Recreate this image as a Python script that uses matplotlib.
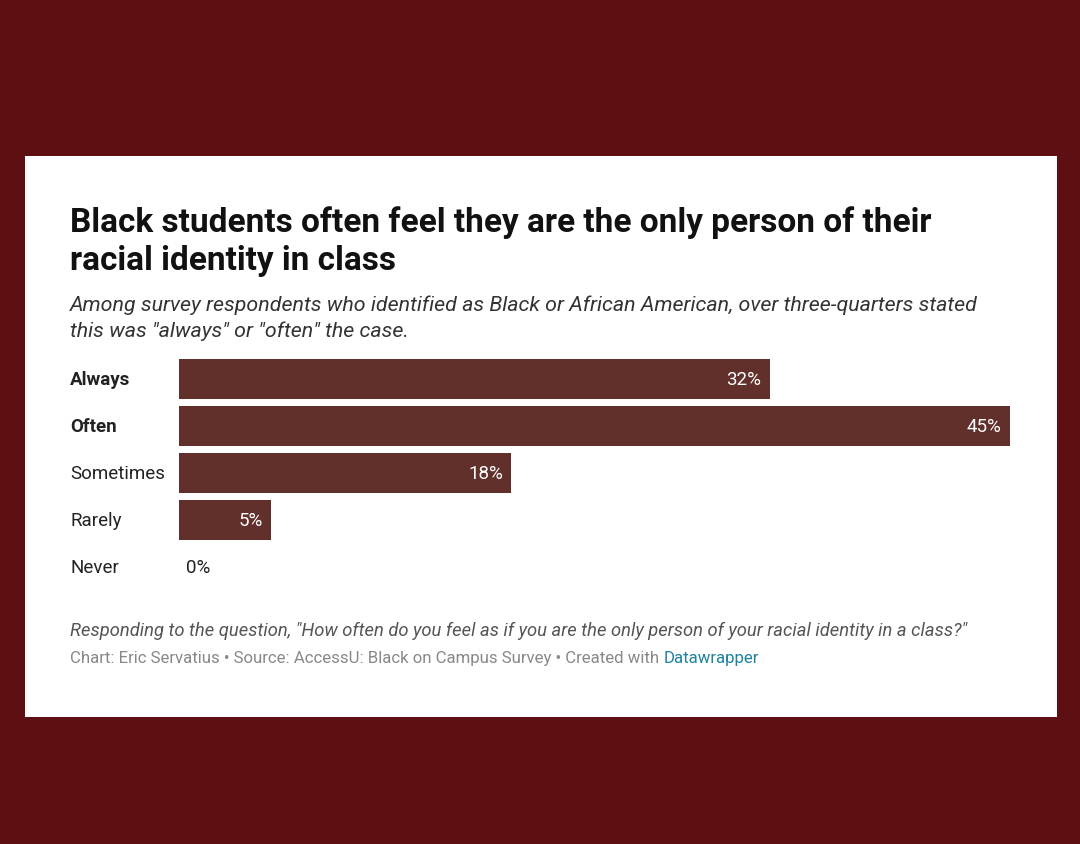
import matplotlib
matplotlib.use("Agg")
import matplotlib.pyplot as plt
from matplotlib.patches import Rectangle

categories = ["Always", "Often", "Sometimes", "Rarely", "Never"]
values = [32, 45, 18, 5, 0]
bold_cats = ["Always", "Often"]
title_lines = ["Black students often feel they are the only person of their",
               "racial identity in class"]
subtitle_lines = ['Among survey respondents who identified as Black or African American, over three-quarters stated',
                  'this was "always" or "often" the case.']
note = 'Responding to the question, "How often do you feel as if you are the only person of your racial identity in a class?"'
credit_parts = ["Chart: Eric Servatius \u2022 Source: AccessU: Black on Campus Survey \u2022 Created with ", "Datawrapper"]

W, H = 1080, 845
BG = "#5e0f11"
BAR = "#62302b"
FONT = ["Roboto", "DejaVu Sans"]

fig = plt.figure(figsize=(W / 100, H / 100), dpi=100)
fig.patch.set_facecolor(BG)

def fx(px):
    return px / W

def fy(py):
    return 1 - py / H

fig.patches.append(Rectangle((fx(25), fy(718)), fx(1057) - fx(25), (718 - 157) / H,
                             transform=fig.transFigure, facecolor="white", edgecolor="none", zorder=-10))

# Title
for i, line in enumerate(title_lines):
    fig.text(fx(70), fy(232 + 38 * i), line, fontsize=24.0, fontweight="bold",
             family=FONT, color="#111111", va="baseline", ha="left")
for i, line in enumerate(subtitle_lines):
    fig.text(fx(70), fy(311 + 26 * i), line, fontsize=15.4, style="italic",
             family=FONT, color="#333333", va="baseline", ha="left")

# Axes: x 179..1010 for 0..45; rows centered at 380 + 47*i
x0, x1 = 179, 1010
top, bottom = 380 - 23.5, 568 + 23.5
ax = fig.add_axes([fx(x0), fy(bottom), fx(x1) - fx(x0), (bottom - top) / H])
ax.set_facecolor("none")
ax.set_zorder(5)
ypos = list(range(len(categories)))
ax.barh(ypos, values, height=40 / 47, color=BAR, edgecolor="none")
ax.set_xlim(0, max(values))
ax.set_ylim(len(categories) - 0.5, -0.5)
ax.axis("off")

for yi, (cat, v) in enumerate(zip(categories, values)):
    ax.text(-(x0 - 70) / (x1 - x0) * max(values), yi, cat, fontsize=13.5,
            fontweight="bold" if cat in bold_cats else "normal",
            family=FONT, color="#222222", va="center", ha="left")
    if v > 0:
        ax.annotate(f"{v}%", (v, yi), xytext=(-6, 0), textcoords="offset points",
                    fontsize=13.5, family=FONT, color="white", va="center", ha="right")
    else:
        ax.annotate(f"{v}%", (v, yi), xytext=(5, 0), textcoords="offset points",
                    fontsize=13.5, family=FONT, color="#222222", va="center", ha="left")

# Footer
fig.text(fx(70), fy(636), note, fontsize=13.2, style="italic", family=FONT,
         color="#555555", va="baseline", ha="left")
fig.canvas.draw()
renderer = fig.canvas.get_renderer()
t1 = fig.text(fx(70), fy(663), credit_parts[0], fontsize=12.05, family=FONT,
              color="#888888", va="baseline", ha="left")
bb = t1.get_window_extent(renderer)
fig.text(bb.x1 / W, fy(663), credit_parts[1], fontsize=12.05, family=FONT,
         color="#1d81a2", va="baseline", ha="left")

fig.savefig("out.png", dpi=100, facecolor=BG)
